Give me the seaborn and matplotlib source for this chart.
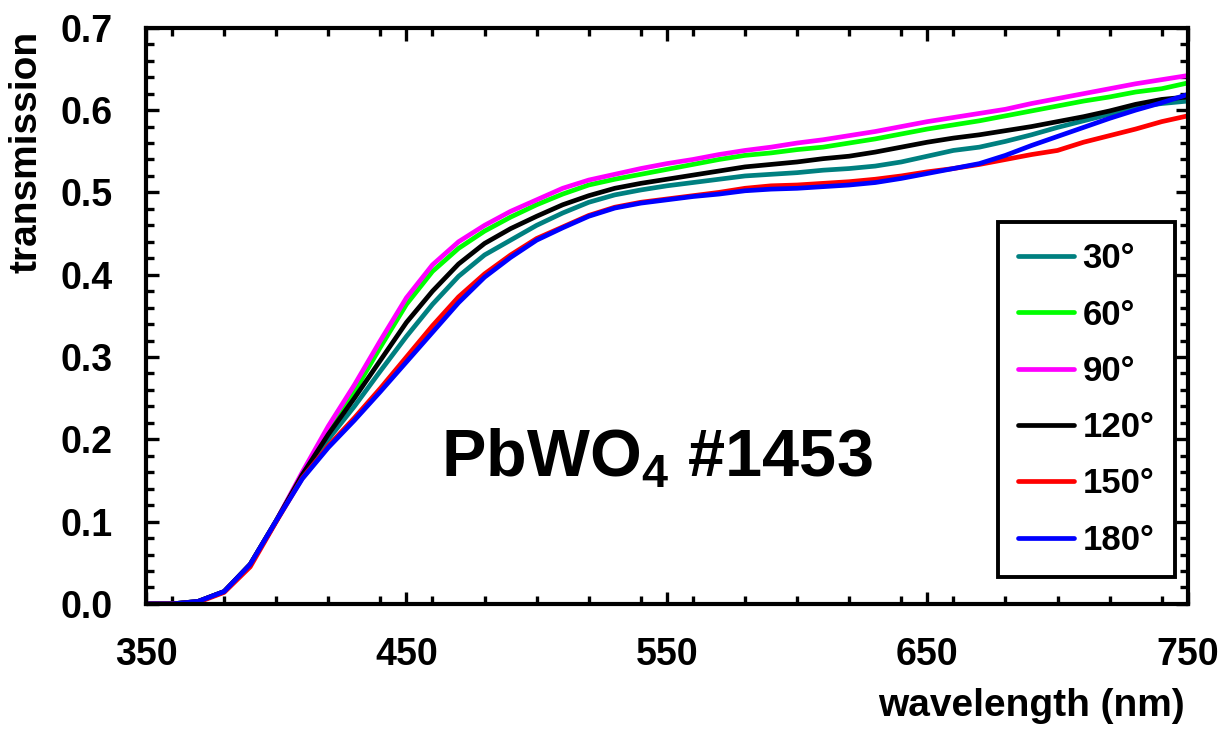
import numpy as np
import pandas as pd
import seaborn as sns
import matplotlib
matplotlib.use("Agg")
import matplotlib.pyplot as plt
from matplotlib.ticker import MultipleLocator, FormatStrFormatter, FixedLocator

wavelength = [350, 360, 370, 380, 390, 400, 410, 420, 430, 440,
              450, 460, 470, 480, 490, 500, 510, 520, 530, 540,
              550, 560, 570, 580, 590, 600, 610, 620, 630, 640,
              650, 660, 670, 680, 690, 700, 710, 720, 730, 740,
              750]

t30 = [0.000, 0.000, 0.003, 0.015, 0.048, 0.101, 0.156, 0.200, 0.240, 0.283,
       0.325, 0.364, 0.398, 0.424, 0.442, 0.460, 0.475, 0.488, 0.497, 0.503,
       0.508, 0.512, 0.516, 0.520, 0.522, 0.524, 0.527, 0.529, 0.532, 0.537,
       0.544, 0.551, 0.555, 0.562, 0.570, 0.579, 0.587, 0.595, 0.604, 0.608,
       0.611]
t60 = [0.000, 0.000, 0.003, 0.015, 0.048, 0.101, 0.158, 0.210, 0.258, 0.312,
       0.364, 0.404, 0.432, 0.453, 0.470, 0.485, 0.498, 0.509, 0.516, 0.522,
       0.528, 0.534, 0.540, 0.545, 0.548, 0.552, 0.555, 0.560, 0.565, 0.571,
       0.577, 0.582, 0.587, 0.593, 0.599, 0.605, 0.611, 0.616, 0.622, 0.626,
       0.633]
t90 = [0.000, 0.000, 0.003, 0.015, 0.048, 0.101, 0.160, 0.216, 0.266, 0.320,
       0.372, 0.412, 0.440, 0.460, 0.477, 0.491, 0.505, 0.515, 0.522, 0.529,
       0.535, 0.540, 0.546, 0.551, 0.555, 0.560, 0.564, 0.569, 0.574, 0.580,
       0.586, 0.591, 0.596, 0.601, 0.608, 0.614, 0.620, 0.626, 0.632, 0.637,
       0.642]
t120 = [0.000, 0.000, 0.003, 0.015, 0.048, 0.101, 0.157, 0.206, 0.250, 0.296,
        0.342, 0.380, 0.413, 0.438, 0.456, 0.471, 0.485, 0.496, 0.505, 0.511,
        0.516, 0.521, 0.526, 0.531, 0.534, 0.537, 0.541, 0.544, 0.549, 0.555,
        0.561, 0.566, 0.570, 0.575, 0.580, 0.586, 0.592, 0.599, 0.607, 0.613,
        0.616]
t150 = [0.000, 0.000, 0.002, 0.014, 0.045, 0.100, 0.153, 0.192, 0.226, 0.262,
        0.300, 0.338, 0.373, 0.401, 0.424, 0.444, 0.458, 0.472, 0.482, 0.488,
        0.492, 0.496, 0.500, 0.505, 0.508, 0.509, 0.511, 0.513, 0.516, 0.520,
        0.525, 0.529, 0.534, 0.540, 0.546, 0.551, 0.561, 0.569, 0.577, 0.586,
        0.593]
t180 = [0.000, 0.000, 0.003, 0.015, 0.048, 0.101, 0.152, 0.190, 0.223, 0.258,
        0.294, 0.330, 0.366, 0.397, 0.421, 0.442, 0.457, 0.471, 0.481, 0.487,
        0.491, 0.495, 0.498, 0.502, 0.504, 0.505, 0.507, 0.509, 0.512, 0.517,
        0.523, 0.529, 0.535, 0.545, 0.557, 0.568, 0.579, 0.590, 0.600, 0.609,
        0.619]

angles = ["30°", "60°", "90°", "120°", "150°", "180°"]
series = [t30, t60, t90, t120, t150, t180]
colors = ["#008080", "#00ff00", "#ff00ff", "#000000", "#ff0000", "#0000ff"]
x_labels = [350, 450, 550, 650, 750]

df = pd.concat([pd.DataFrame({"wavelength": wavelength, "transmission": s, "angle": a})
                for a, s in zip(angles, series)], ignore_index=True)

sns.set_style("ticks")
plt.rcParams["font.family"] = ["Liberation Sans", "DejaVu Sans"]
plt.rcParams["font.weight"] = "bold"
plt.rcParams["text.color"] = "black"
plt.rcParams["axes.labelcolor"] = "black"
plt.rcParams["xtick.color"] = "black"
plt.rcParams["ytick.color"] = "black"
plt.rcParams["mathtext.fontset"] = "custom"
plt.rcParams["mathtext.bf"] = "Liberation Sans:bold"
plt.rcParams["mathtext.rm"] = "Liberation Sans:bold"

fig = plt.figure(figsize=(12.27, 7.32), dpi=100)
ax = fig.add_axes([0.119, 0.175, 0.849, 0.787])

sns.lineplot(data=df, x="wavelength", y="transmission", hue="angle",
             hue_order=angles, palette=dict(zip(angles, colors)),
             linewidth=3.4, ax=ax, legend=True)

ax.set_xlim(350, 750)
ax.set_ylim(0, 0.7)

ax.xaxis.set_major_locator(FixedLocator(x_labels))
ax.xaxis.set_minor_locator(MultipleLocator(20))
ax.yaxis.set_major_locator(MultipleLocator(0.1))
ax.yaxis.set_minor_locator(MultipleLocator(0.02))
ax.yaxis.set_major_formatter(FormatStrFormatter("%.1f"))

ax.tick_params(which="both", direction="in", top=True, right=True, width=2.4,
               color="black", labelcolor="black")
ax.tick_params(which="major", length=9)
ax.tick_params(which="minor", length=6)
ax.tick_params(axis="x", which="major", labelsize=27, pad=24)
ax.tick_params(axis="y", which="major", labelsize=27, pad=24)
for lab in ax.get_xticklabels() + ax.get_yticklabels():
    lab.set_fontweight("bold")

for sp in ax.spines.values():
    sp.set_linewidth(3)
    sp.set_color("black")

ax.set_xlabel("wavelength (nm)", fontsize=28, fontweight="bold", ha="right", color="black")
ax.xaxis.set_label_coords(0.997, -0.146)
ax.set_ylabel("transmission", fontsize=28, fontweight="bold", color="black")
ax.yaxis.set_label_coords(-0.097, 0.785)

ax.text(546, 0.154, r"PbWO$_\mathbf{4}$ #1453", fontsize=48, fontweight="bold",
        ha="center", va="baseline", color="black")

handles, labels = ax.get_legend_handles_labels()
leg = ax.legend(handles, labels, loc="lower right", bbox_to_anchor=(0.9875, 0.047),
                borderaxespad=0, frameon=True, fancybox=False, framealpha=1,
                edgecolor="black", prop={"size": 25, "weight": "bold"},
                handlelength=1.6, handletextpad=0.25, labelspacing=0.67,
                borderpad=0.58, title=None)
leg.get_frame().set_linewidth(2.8)
for h in leg.get_lines():
    h.set_linewidth(3.4)
for t in leg.get_texts():
    t.set_color("black")

fig.savefig("out.png", dpi=100)
